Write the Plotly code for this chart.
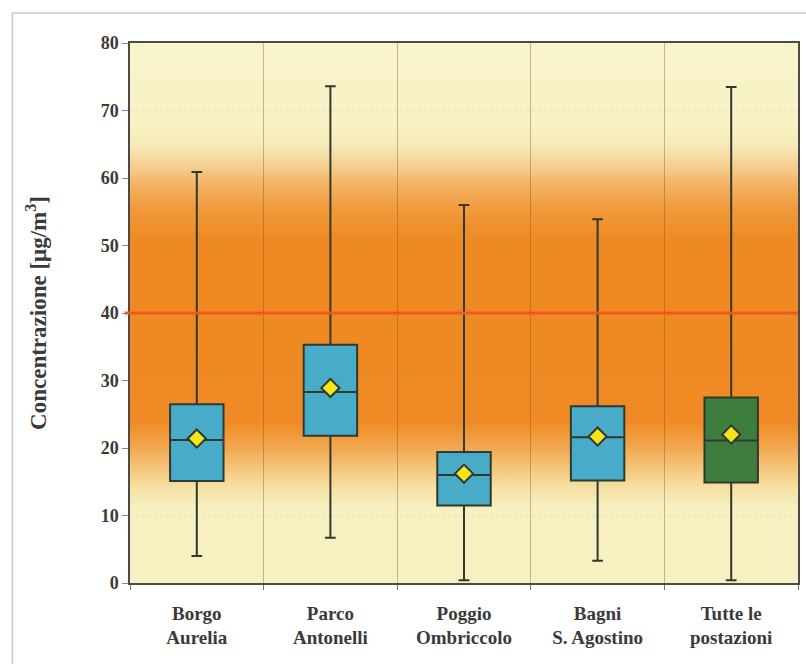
import base64
import plotly.graph_objects as go

# Monitoring sites and summary statistics of the concentrations (µg/m³)
categories = ["Borgo<br>Aurelia", "Parco<br>Antonelli", "Poggio<br>Ombriccolo",
              "Bagni<br>S. Agostino", "Tutte le<br>postazioni"]
minimum = [4.0, 6.7, 0.4, 3.3, 0.4]
q1 = [15.1, 21.8, 11.5, 15.2, 14.9]
median = [21.2, 28.3, 16.0, 21.6, 21.1]
q3 = [26.5, 35.3, 19.4, 26.2, 27.5]
maximum = [60.9, 73.6, 56.0, 53.9, 73.5]
mean = [21.4, 28.9, 16.2, 21.7, 22.0]
limit_value = 40
y_ticks = [0, 10, 20, 30, 40, 50, 60, 70, 80]

SERIF = "Liberation Serif, Times New Roman, serif"
TEXT = "#3a3a3a"
EDGE = "#2e3a30"
Y_MAX = 80

# Background colour profile along the concentration axis (value, colour)
profile = [
    (0, "#f7f1c2"), (11, "#f7f0c0"), (14, "#f6e2a6"), (17, "#f4c67a"),
    (20, "#f2a850"), (24, "#ef8a24"), (51, "#ef8a22"), (55, "#f1983a"),
    (58.5, "#f3ae5c"), (61.5, "#f5cc8c"), (64.5, "#f7e8b4"), (67.5, "#f8f1c4"),
    (80, "#f8f4cb"),
]

stops = "".join(
    '<stop offset="{:.4f}" stop-color="{}"/>'.format((Y_MAX - v) / Y_MAX, c)
    for v, c in sorted(profile, key=lambda p: -p[0])
)
svg = (
    '<svg xmlns="http://www.w3.org/2000/svg" width="100" height="100" '
    'viewBox="0 0 100 100" preserveAspectRatio="none">'
    '<defs><linearGradient id="g" x1="0" y1="0" x2="0" y2="1">' + stops +
    '</linearGradient></defs><rect width="100" height="100" fill="url(#g)"/></svg>'
)
gradient_uri = "data:image/svg+xml;base64," + base64.b64encode(svg.encode()).decode()

shapes = [
    # Limit value line
    dict(type="line", xref="paper", yref="y", x0=-0.008, x1=1,
         y0=limit_value, y1=limit_value,
         line=dict(color="#f1561e", width=3), layer="above"),
    # Light outer frame around the whole figure
    dict(type="rect", xref="paper", yref="paper", x0=-0.1761, x1=1.05,
         y0=-0.3, y1=1.0556, line=dict(color="#c9c9c9", width=1.5),
         layer="below"),
]

fig = go.Figure()

box_style = dict(line=dict(color=EDGE, width=2), whiskerwidth=0.2, width=0.4,
                 boxpoints=False, hoverinfo="skip", showlegend=False)

fig.add_trace(go.Box(
    x=categories[:4], q1=q1[:4], median=median[:4], q3=q3[:4],
    lowerfence=minimum[:4], upperfence=maximum[:4],
    fillcolor="#48abc8", **box_style))
fig.add_trace(go.Box(
    x=categories[4:], q1=q1[4:], median=median[4:], q3=q3[4:],
    lowerfence=minimum[4:], upperfence=maximum[4:],
    fillcolor="#3e7d3e", **box_style))

fig.add_trace(go.Scatter(
    x=categories, y=mean, mode="markers", showlegend=False, hoverinfo="skip",
    marker=dict(symbol="diamond", size=14, color="#f4e41c",
                line=dict(color=EDGE, width=2))))

fig.update_layout(
    width=806, height=664,
    margin=dict(l=130, r=6, t=43, b=81),
    paper_bgcolor="white",
    plot_bgcolor="rgba(0,0,0,0)",
    boxmode="overlay",
    shapes=shapes,
    images=[dict(source=gradient_uri, xref="paper", yref="paper", x=0, y=1,
                 sizex=1, sizey=1, xanchor="left", yanchor="top",
                 sizing="stretch", layer="below")],
    font=dict(family=SERIF, color=TEXT),
    xaxis=dict(
        type="category", categoryorder="array", categoryarray=categories,
        range=[-0.5, 4.5], tickson="boundaries", showgrid=True,
        gridcolor="rgba(110,70,30,0.35)", gridwidth=1,
        ticks="outside", ticklen=5, tickcolor="#777",
        ticklabelstandoff=12,
        showline=True, linecolor="#4a4a4a", linewidth=1.5, mirror=True,
        tickfont=dict(family=SERIF, size=19, color=TEXT, weight="bold"),
        zeroline=False,
    ),
    yaxis=dict(
        range=[0, Y_MAX], tickvals=y_ticks, showgrid=True,
        gridcolor="rgba(160,160,160,0.25)", griddash="dot",
        ticks="outside", ticklen=6, tickcolor="#888",
        showline=True, linecolor="#4a4a4a", linewidth=1.5, mirror=True,
        tickfont=dict(family=SERIF, size=18, color=TEXT, weight="bold"),
        zeroline=False,
        title=dict(text="Concentrazione [μg/m<sup>3</sup>]", standoff=48,
                   font=dict(family=SERIF, size=23, color=TEXT, weight="bold")),
    ),
)

fig.write_html("out.html")
